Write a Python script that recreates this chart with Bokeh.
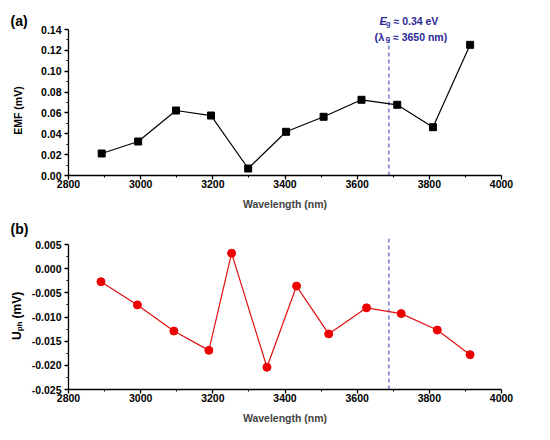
import math
from bokeh.plotting import figure
from bokeh.layouts import column
from bokeh.models import Range1d, FixedTicker, PrintfTickFormatter, Label
from bokeh.embed import file_html
from bokeh.resources import INLINE

# Panel (a): EMF vs wavelength
wl_a = [2892, 2993, 3098, 3195, 3298, 3403, 3507, 3612, 3711, 3810, 3913]
emf = [0.0211, 0.0326, 0.0623, 0.0575, 0.0067, 0.0419, 0.0563, 0.0726, 0.0678, 0.0463, 0.1253]

# Panel (b): U_ph vs wavelength
wl_b = [2890, 2991, 3092, 3189, 3252, 3350, 3432, 3521, 3626, 3722, 3822, 3913]
uph = [-0.0027, -0.0075, -0.0129, -0.0169, 0.0032, -0.0204, -0.0036, -0.0135, -0.0081, -0.0093, -0.0127, -0.0178]

gap_wl = 3688
x_ticks = [2800, 3000, 3200, 3400, 3600, 3800, 4000]
x_minor = [2900, 3100, 3300, 3500, 3700, 3900]
ya_ticks = [0.00, 0.02, 0.04, 0.06, 0.08, 0.10, 0.12, 0.14]
ya_minor = [0.01, 0.03, 0.05, 0.07, 0.09, 0.11, 0.13]
yb_ticks = [-0.025, -0.020, -0.015, -0.010, -0.005, 0.000, 0.005]
yb_minor = [-0.0225, -0.0175, -0.0125, -0.0075, -0.0025, 0.0025]

FONT = "Liberation Sans"
BLUE_TXT = "#2a2a96"
BLUE_LINE = "#4848c8"
W = 534
HA, HB = 216, 208

# pixel geometry of the plotting area (left, right edges of x axis)
XL, XR = 68.0, 501.0
nm_per_px = (4000 - 2800) / (XR - XL)
x_range_all = (2800 - XL * nm_per_px, 4000 + (W - XR) * nm_per_px)


def yr(top_px, bot_px, vtop, vbot, H):
    per = (vtop - vbot) / (bot_px - top_px)
    return (vbot - (H - bot_px) * per, vtop + top_px * per)


def style(p, yt, ym, fmt, ybounds, ybase):
    p.xgrid.visible = False
    p.ygrid.visible = False
    p.outline_line_color = None
    p.xaxis.ticker = FixedTicker(ticks=x_ticks, minor_ticks=x_minor)
    p.yaxis.ticker = FixedTicker(ticks=yt, minor_ticks=ym)
    p.yaxis.formatter = PrintfTickFormatter(format=fmt)
    p.xaxis.fixed_location = ybase
    p.yaxis.fixed_location = 2800
    p.xaxis.bounds = (2800, 4000)
    p.yaxis.bounds = ybounds
    for ax in (p.xaxis, p.yaxis):
        ax.axis_line_width = 1.3
        ax.major_tick_line_width = 1.3
        ax.minor_tick_line_width = 1.1
        ax.major_tick_in = 0
        ax.major_tick_out = 4
        ax.minor_tick_in = 0
        ax.minor_tick_out = 2
        ax.major_label_text_font = FONT
        ax.major_label_text_font_style = "bold"
        ax.major_label_text_font_size = "10.5px"
        ax.major_label_text_color = "black"
    p.xaxis.major_label_standoff = 0
    p.yaxis.major_label_standoff = 3
    p.xaxis.axis_label = "Wavelength (nm)"
    p.xaxis.axis_label_text_font = FONT
    p.xaxis.axis_label_text_font_style = "bold"
    p.xaxis.axis_label_text_font_size = "10.5px"
    p.xaxis.axis_label_standoff = 7


def lab(p, x, y, text, size, style_="bold", color="black", angle=0, align="left", baseline="alphabetic"):
    p.add_layout(Label(x=x, y=y, x_units="screen", y_units="screen", text=text,
                       text_font=FONT, text_font_style=style_, text_font_size=size,
                       text_color=color, angle=angle, text_align=align, text_baseline=baseline))


def make_fig(H, yrange):
    return figure(width=W, height=H, frame_width=W, frame_height=H,
                  x_range=Range1d(*x_range_all), y_range=Range1d(*yrange),
                  output_backend="svg", toolbar_location=None,
                  min_border=0, min_border_left=0, min_border_right=0,
                  min_border_top=0, min_border_bottom=0)


# ---- panel (a)
pa = make_fig(HA, yr(29, 175, 0.14, 0.0, HA))
style(pa, ya_ticks, ya_minor, "%.2f", (0, 0.14), 0.0)
pa.segment(x0=[gap_wl], y0=[0], x1=[gap_wl], y1=[0.1295], line_color=BLUE_LINE,
           line_width=1.1, line_dash="4 3")
pa.line(wl_a, emf, line_color="black", line_width=1.2)
pa.scatter(wl_a, emf, marker="square", size=7, fill_color="black", line_color="black")

lab(pa, 10, HA - 20, "(a)", "14px")
lab(pa, 17, HA - 110, "EMF (mV)", "10.5px", angle=math.pi / 2, align="center", baseline="middle")
# E_g ≈ 0.34 eV
lab(pa, 379, HA - 20.7, "E", "11px", style_="bold italic", color=BLUE_TXT)
lab(pa, 385.5, HA - 22.5, "g", "7.5px", color=BLUE_TXT)
lab(pa, 393, HA - 20.7, "\u2248 0.34 eV", "10.5px", color=BLUE_TXT)
# (λg ≈ 3650 nm)
lab(pa, 374, HA - 36, "(\u03bb", "11px", color=BLUE_TXT)
lab(pa, 385, HA - 37.5, "g", "7.5px", color=BLUE_TXT)
lab(pa, 392.5, HA - 36, "\u2248 3650 nm)", "10.5px", color=BLUE_TXT)

# ---- panel (b)
OFF = HA  # reference y offset of panel (b)
pb = make_fig(HB, yr(244 - OFF, 389 - OFF, 0.005, -0.025, HB))
style(pb, yb_ticks, yb_minor, "%.3f", (-0.025, 0.005), -0.025)
pb.segment(x0=[gap_wl], y0=[-0.025], x1=[gap_wl], y1=[0.0062], line_color=BLUE_LINE,
           line_width=1.1, line_dash="4 3")
pb.line(wl_b, uph, line_color="#e01010", line_width=1.2)
pb.scatter(wl_b, uph, marker="circle", size=8, fill_color="#ee0000", line_color="#ee0000")

lab(pb, 10, HB - (228 - OFF), "(b)", "14px")
yU = HB - (339.5 - OFF)
lab(pb, 16.7, yU, "U", "12px", angle=math.pi / 2)
lab(pb, 18.5, yU + 8.7, "ph", "8px", angle=math.pi / 2)
lab(pb, 16.7, yU + 21.5, "(mV)", "12px", angle=math.pi / 2)

layout = column(pa, pb, spacing=0)
open("out.html", "w").write(file_html(layout, INLINE))
